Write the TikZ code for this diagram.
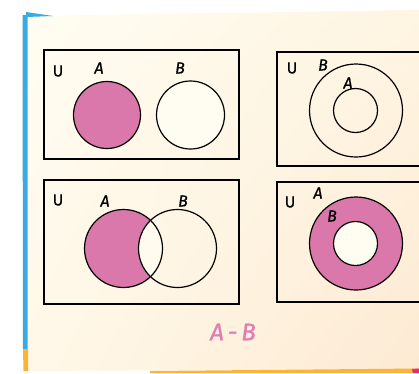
\documentclass[tikz,border=0pt]{standalone}
\usepackage{fontspec}
\usetikzlibrary{shadings}
\newfontfamily\lblfont[FakeBold=0.8]{Fira Sans}
\newfontfamily\capfont[FakeBold=1.2]{Fira Sans}
\definecolor{creamA}{HTML}{FFFCEF}
\definecolor{bgUL}{RGB}{255,253,242}
\definecolor{bgUR}{RGB}{254,245,226}
\definecolor{bgLL}{RGB}{255,248,232}
\definecolor{bgLR}{RGB}{253,234,211}
\definecolor{vpink}{HTML}{DB78AB}
\definecolor{tpink}{HTML}{E27DB3}
\definecolor{sblue}{HTML}{3AABE1}
\definecolor{sorange}{HTML}{FBB33A}
\definecolor{cpink}{HTML}{E8287A}
\definecolor{holew}{HTML}{FFFCF2}
\begin{document}
\begin{tikzpicture}[x=1pt,y=-1pt,
  ubox/.style={draw=black,line width=1.4pt},
  vc/.style={circle,draw=black,line width=1.2pt,inner sep=0pt,outer sep=0pt},
  ulbl/.style={font=\lblfont\fontsize{16}{16}\selectfont,inner sep=0pt},
  slbl/.style={font=\lblfont\itshape\fontsize{16}{16}\selectfont,inner sep=0pt}]
\useasboundingbox (0,0) rectangle (419,373);
\clip (0,0) rectangle (419,373);
% page
\shade[upper left=bgUL,upper right=bgUR,lower left=bgLL,lower right=bgLR]
  (26,16) -- (419,10) -- (419,369) -- (26,371) -- cycle;
% edge strips
\fill[sblue] (22.5,15) -- (27.5,15) -- (27.5,349) -- (23,349) -- cycle;
\fill[sorange] (23,349) -- (28,349) -- (28,371) -- (23.5,371) -- cycle;
\fill[sblue] (26,12) -- (53,16) -- (26,17) -- cycle;
\fill[sorange] (150,371) -- (419,368.5) -- (419,373) -- (150,373) -- cycle;
\fill[cpink] (412,369) -- (419,368.5) -- (419,373) -- (413,373) -- cycle;
% panel 1: A and B disjoint
\draw[ubox] (44,50) rectangle (239,159);
\node[vc,fill=vpink,minimum size=67pt] (A1) at (107,115) {};
\node[vc,fill=holew,minimum size=68pt] (B1) at (190.5,115) {};
\node[ulbl] (U1) at (58,71) {U};
\node[slbl] (LA1) at (99,68) {A};
\node[slbl] (LB1) at (180,68) {B};
% panel 2: A subset of B
\draw[ubox] (277,52) rectangle (440,166);
\node[vc,minimum size=93pt] (B2) at (356,110.5) {};
\node[vc,minimum size=44pt] (A2) at (355.5,110.5) {};
\node[ulbl] (U2) at (292,68) {U};
\node[slbl] (LB2) at (323,65) {B};
\node[slbl] (LA2) at (348,83) {A};
% panel 3: overlapping
\draw[ubox] (44,180) rectangle (239,304);
\fill[vpink] (123.5,248.5) circle (39);
\begin{scope}
  \clip (123.5,248.5) circle (39);
  \fill[creamA] (177.5,248.5) circle (39);
\end{scope}
\node[vc,minimum size=78pt] (A3) at (123.5,248.5) {};
\node[vc,minimum size=78pt] (B3) at (177.5,248.5) {};
\node[ulbl] (U3) at (58,200) {U};
\node[slbl] (LA3) at (105,201) {A};
\node[slbl] (LB3) at (183,201) {B};
% panel 4: B subset of A
\draw[ubox] (277,182) rectangle (440,302);
\node[vc,fill=vpink,minimum size=93pt] (A4) at (356,243.5) {};
\node[vc,fill=holew,minimum size=44pt] (B4) at (355.5,243.5) {};
\node[ulbl] (U4) at (290,202) {U};
\node[slbl] (LA4) at (318,193) {A};
\node[slbl] (LB4) at (332,216) {B};
% caption
\node[font=\capfont\itshape\fontsize{24}{24}\selectfont,text=tpink,inner sep=0pt] (cap) at (233,332) {A\,-\,B};
\end{tikzpicture}
\end{document}
